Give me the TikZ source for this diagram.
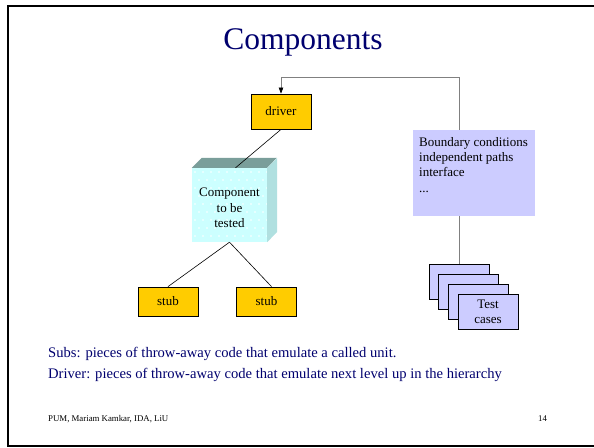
\documentclass[tikz,border=0pt]{standalone}
\usepackage{fontspec}
\setmainfont{Liberation Serif}
\usetikzlibrary{arrows.meta}
\definecolor{navy}{RGB}{0,0,110}
\definecolor{gold}{RGB}{255,204,0}
\definecolor{lav}{RGB}{204,204,255}
\definecolor{cubefront}{RGB}{204,255,255}
\definecolor{cubetop}{RGB}{122,158,154}
\definecolor{cubeside}{RGB}{176,224,224}
\definecolor{linegray}{RGB}{128,128,128}
\begin{document}
\begin{tikzpicture}[x=1pt,y=-1pt,
  txt/.style={font=\fontsize{13}{15.3}\selectfont},
  goldbox/.style={txt,draw=black,line width=0.8pt,fill=gold,minimum width=60pt,inner sep=0pt},
  card/.style={draw=black,line width=0.8pt,fill=lav,minimum width=60pt,minimum height=35pt,inner sep=0pt},
  wire/.style={draw=black,line width=0.6pt},
  gwire/.style={draw=linegray,line width=0.7pt},
  frame/.style={line width=2pt,draw=black},
  bottomtext/.style={anchor=base west,text=navy,font=\fontsize{14.6}{17}\selectfont,inner sep=0pt},
  foottext/.style={anchor=base west,font=\fontsize{8.8}{10}\selectfont,inner sep=0pt}
]
\useasboundingbox (0,0) rectangle (594,447);
% slide frame
\draw[frame] (594,6) -- (8,6) -- (8,445.5) -- (594,445.5);

% title
\node[anchor=base,text=navy,font=\fontsize{31.5}{36}\selectfont,inner sep=0pt] (title) at (303,49) {Components};

% driver
\node[goldbox,minimum height=35pt] (driver) at (281,111.5) {driver};

% component cube
\node[fill=cubefront,minimum width=75pt,minimum height=74pt,inner sep=0pt,
  path picture={
    \foreach \j in {0,...,9}{
      \pgfmathsetmacro{\off}{mod(\j,2)*4}
      \foreach \i in {0,...,9}{
        \fill[white] ([shift={(3+\off+8*\i,4+8*\j)}]path picture bounding box.north west) circle (0.8);
      }
    }
  }] (comp) at (229.5,205) {};
\fill[cubetop] (comp.north west) -- ++(10,-10) -- ++(75,0) -- (comp.north east) -- cycle;
\fill[cubeside] (comp.north east) -- ++(10,-10) -- ++(0,74) -- (comp.south east) -- cycle;
\node[txt,align=center,inner sep=0pt] (comptext) at (229.5,208) {Component\\to be\\tested};

% stubs
\node[goldbox,minimum height=29pt] (stub1) at (168,301.5) {stub};
\node[goldbox,minimum height=29pt] (stub2) at (266.5,301.5) {stub};

% connectors of the tree
\draw[wire] (driver.south) -- ([xshift=6]comp.north);
\draw[wire] (comp.south) -- (stub1.north);
\draw[wire] (comp.south) -- ([xshift=5]stub2.north);

% conditions box
\node[fill=lav,minimum width=122pt,minimum height=86pt,inner sep=0pt] (cond) at (474,173) {};
\node[txt,anchor=north west,align=left,inner sep=0pt] (condtext) at (419,137) {Boundary conditions\\independent paths\\interface\\...};

% test cases
\node[card] (tc1) at (459,281.5) {};
\node[card] (tc2) at (468.5,291.5) {};
\node[card] (tc3) at (478,301.5) {};
\node[card,txt,align=center] (tc4) at (488,311.5) {Test\\cases};

% grey connectors
\draw[gwire] (tc1.north) -- (tc1.north |- cond.south);
\coordinate (fbtop) at (458,77);
\draw[gwire,-{Triangle[length=6pt,width=4.5pt,color=black]}] (tc1.north |- cond.north) -- (tc1.north |- fbtop) -| (driver.north);

% bottom text
\node[bottomtext] (subs) at (48,357) {Subs: pieces of throw-away code that emulate a called unit.};
\node[bottomtext] (drv) at (48,378) {Driver: pieces of throw-away code that emulate next level up in the hierarchy};

% footer
\node[foottext] (foot) at (48,421.5) {PUM, Mariam Kamkar, IDA, LiU};
\node[foottext] (page) at (538,421.5) {14};
\end{tikzpicture}
\end{document}
